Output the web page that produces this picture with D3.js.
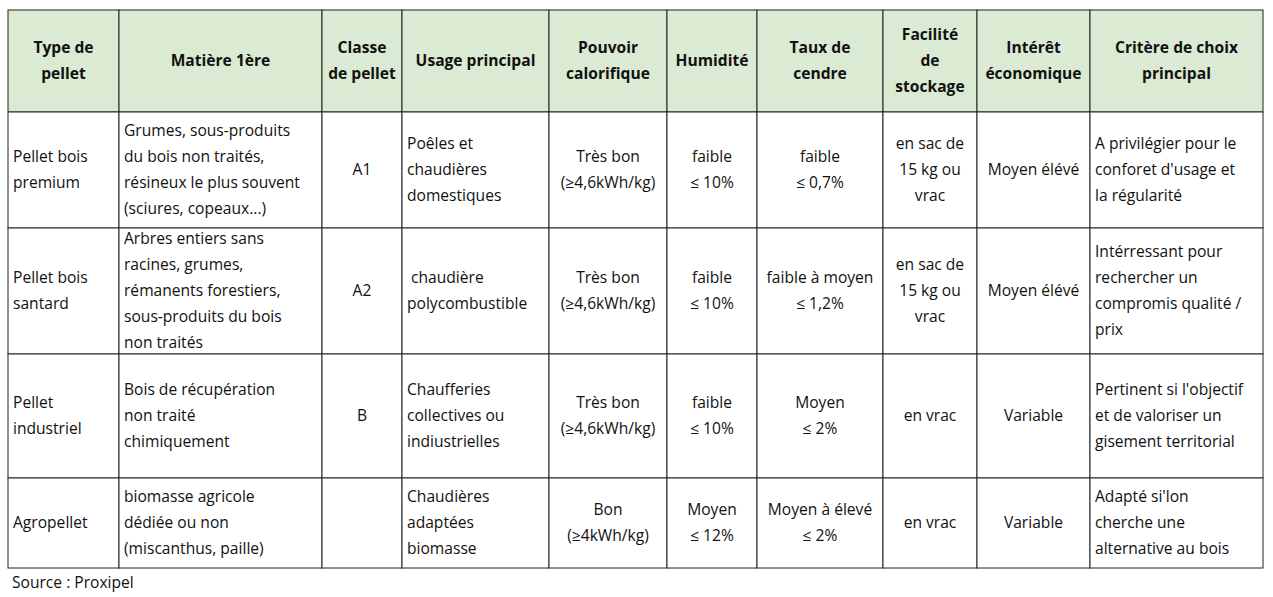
<!DOCTYPE html>
<html><head><meta charset="utf-8">
<script src="https://cdn.jsdelivr.net/npm/d3@7"></script>
<style>body{margin:0;background:#fff}text{font-family:"Open Sans",sans-serif;font-size:15.6px;fill:#111}</style>
</head><body><svg id="c" width="1273" height="597"></svg>
<script>
// column headers (lines) and body rows (each cell = lines)
var headers = [["Type de","pellet"],["Matière 1ère"],["Classe","de pellet"],["Usage principal"],["Pouvoir","calorifique"],["Humidité"],["Taux de","cendre"],["Facilité","de","stockage"],["Intérêt","économique"],["Critère de choix","principal"]];
var rows = [
 [["Pellet bois","premium"],["Grumes, sous-produits","du bois non traités,","résineux le plus souvent","(sciures, copeaux...)"],["A1"],["Poêles et","chaudières","domestiques"],["Très bon","(≥4,6kWh/kg)"],["faible","≤ 10%"],["faible","≤ 0,7%"],["en sac de","15 kg ou","vrac"],["Moyen élévé"],["A privilégier pour le","conforet d'usage et","la régularité"]],
 [["Pellet bois","santard"],["Arbres entiers sans","racines, grumes,","rémanents forestiers,","sous-produits du bois","non traités"],["A2"],[" chaudière","polycombustible"],["Très bon","(≥4,6kWh/kg)"],["faible","≤ 10%"],["faible à moyen","≤ 1,2%"],["en sac de","15 kg ou","vrac"],["Moyen élévé"],["Intérressant pour","rechercher un","compromis qualité /","prix"]],
 [["Pellet","industriel"],["Bois de récupération","non traité","chimiquement"],["B"],["Chaufferies","collectives ou","indiustrielles"],["Très bon","(≥4,6kWh/kg)"],["faible","≤ 10%"],["Moyen","≤ 2%"],["en vrac"],["Variable"],["Pertinent si l'objectif","et de valoriser un","gisement territorial"]],
 [["Agropellet"],["biomasse agricole","dédiée ou non","(miscanthus, paille)"],[""],["Chaudières","adaptées","biomasse"],["Bon","(≥4kWh/kg)"],["Moyen","≤ 12%"],["Moyen à élevé","≤ 2%"],["en vrac"],["Variable"],["Adapté si'lon","cherche une","alternative au bois"]]
];
var colEdges = [8,119,322,402,549,667,757,883,977,1090,1263];
var rowEdges = [10,112,228,354,478,568];
var align = ["start","start","middle","start","middle","middle","middle","middle","middle","start"];
var source = "Source : Proxipel";

var svg = d3.select("#c"), LH = 26;
var all = [headers].concat(rows);
all.forEach(function(row, r){
  var y0 = rowEdges[r], y1 = rowEdges[r+1];
  row.forEach(function(lines, c){
    var x0 = colEdges[c], x1 = colEdges[c+1];
    svg.append("rect").attr("x",x0).attr("y",y0).attr("width",x1-x0).attr("height",y1-y0)
      .attr("fill", r===0 ? "#dbead2" : "#fff").attr("stroke","#222").attr("stroke-width",1);
    var a = r===0 ? "middle" : align[c];
    var tx = a==="middle" ? (x0+x1)/2 : x0+5;
    var cy = (y0+y1)/2 - (lines.length-1)*LH/2;
    var t = svg.append("text").attr("text-anchor",a).attr("font-weight", r===0 ? "bold" : null);
    lines.forEach(function(l,i){
      t.append("tspan").attr("x",tx).attr("y",cy+i*LH).attr("dy","0.35em").attr("xml:space","preserve").text(l);
    });
  });
});
svg.append("text").attr("x",12).attr("y",583).attr("dy","0.35em").text(source);
</script></body></html>
